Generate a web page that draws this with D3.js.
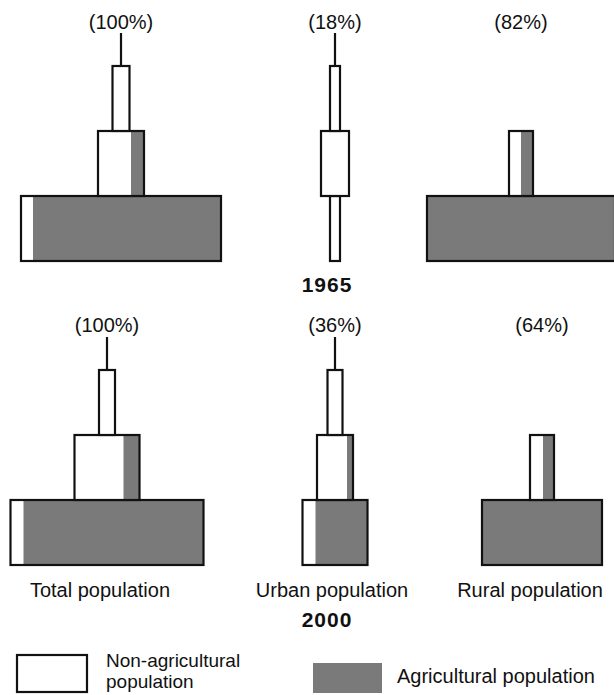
<!DOCTYPE html>
<html>
<head>
<meta charset="utf-8">
<script src="https://cdn.jsdelivr.net/npm/d3@7"></script>
<style>
  body { margin: 0; background: #fff; }
  text { font-family: "Liberation Sans", Arial, sans-serif; fill: #111; }
</style>
</head>
<body>
<svg id="chart" width="614" height="695"></svg>
<script>
// categories and tiers
const categories = ["Total population", "Urban population", "Rural population"];
const years = ["1965", "2000"];
const levels = ["Level 1", "Level 2", "Level 3", "Level 4"];

// share of total population per category
const shares1965 = [100, 18, 82];
const shares2000 = [100, 36, 64];

// tier widths (share units) per category, per level; null = no tier
const nonAg1965 = [[6, 16.5, 8.5, 0.5], [5, 14, 5, 0.5], [0, 6, null, null]];
const ag1965    = [[94, 6.5, 0, 0],     [0, 0, 0, 0],    [94, 6, null, null]];
const nonAg2000 = [[6.5, 24.5, 8, 0.5], [6.5, 15, 7.5, 0.5], [0, 6.5, null, null]];
const ag2000    = [[90, 8, 0, 0],       [26, 3, 0, 0],       [60, 5.5, null, null]];

const legendLabels = [["Non-agricultural", "population"], ["Agricultural population"]];

const grey = "#7a7a7a";
const ink = "#111";

const chart = d3.select("#chart");
const x = d3.scaleLinear().domain([0, 100]).range([0, 200]);
const tierH = 65, spikeH = 33;

const panels = [
  {year: years[0], base: 261, nonAg: nonAg1965, ag: ag1965, shares: shares1965,
   centers: [121, 335, 521], shareY: 29, yearY: 292},
  {year: years[1], base: 565, nonAg: nonAg2000, ag: ag2000, shares: shares2000,
   centers: [107, 335, 542], shareY: 332, yearY: 627}
];

const drawPanel = (p) => {
  let y = d3.scaleLinear().domain([0, 3]).range([p.base, p.base - 3 * tierH]);
  let g = chart.append("g").attr("class", "panel");

  categories.forEach((cat, c) => {
    let cx = p.centers[c];
    let tiers = levels.map((lv, i) => ({i: i, n: p.nonAg[c][i], a: p.ag[c][i]}))
                      .filter(d => d.n != null && d.n + d.a > 0);

    tiers.forEach((d) => {
      let w = x(d.n + d.a);
      if (w < 3) {
        g.append("line")
          .attr("x1", cx).attr("x2", cx)
          .attr("y1", y(d.i)).attr("y2", y(d.i) - spikeH)
          .style("stroke", ink).style("stroke-width", 2.2);
        return;
      }
      let left = cx - w / 2;
      let top = y(d.i + 1), h = y(d.i) - y(d.i + 1);
      g.append("rect")
        .attr("x", left).attr("y", top).attr("width", w).attr("height", h)
        .style("fill", "#fff");
      if (d.a > 0) {
        g.append("rect")
          .attr("x", left + x(d.n)).attr("y", top).attr("width", x(d.a)).attr("height", h)
          .style("fill", grey);
      }
      g.append("rect")
        .attr("x", left).attr("y", top).attr("width", w).attr("height", h)
        .style("fill", "none").style("stroke", ink).style("stroke-width", 2.2);
    });

    g.append("text")
      .attr("x", cx).attr("y", p.shareY)
      .style("text-anchor", "middle").style("font-size", "20px")
      .text(`(${p.shares[c]}%)`);
  });

  g.append("text")
    .attr("x", 327).attr("y", p.yearY)
    .style("text-anchor", "middle").style("font-size", "21px")
    .style("font-weight", "bold").style("letter-spacing", "1px")
    .text(p.year);
}

panels.forEach(drawPanel);

// category labels under the 2000 panel
const labelX = [100, 332, 530];
chart.selectAll(".cat-label")
  .data(categories)
  .join("text")
  .attr("class", "cat-label")
  .attr("x", (d, i) => labelX[i]).attr("y", 597)
  .style("text-anchor", "middle").style("font-size", "20px")
  .text(d => d);

// legend
chart.append("rect")
  .attr("x", 17).attr("y", 655).attr("width", 70).attr("height", 37)
  .style("fill", "#fff").style("stroke", ink).style("stroke-width", 2.2);
chart.append("text")
  .attr("x", 106).attr("y", 667).style("font-size", "19px")
  .selectAll("tspan")
  .data(legendLabels[0])
  .join("tspan")
  .attr("x", 106).attr("dy", (d, i) => i ? 21 : 0)
  .text(d => d);
chart.append("rect")
  .attr("x", 313).attr("y", 663).attr("width", 69).attr("height", 30)
  .style("fill", grey);
chart.append("text")
  .attr("x", 397).attr("y", 683).style("font-size", "20px")
  .text(legendLabels[1][0]);
</script>
</body>
</html>
